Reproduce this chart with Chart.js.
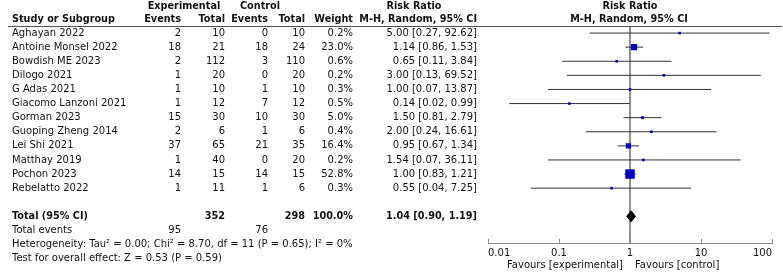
<!DOCTYPE html>
<html><head><meta charset="utf-8">
<script src="https://cdn.jsdelivr.net/npm/chart.js@4"></script>
<style>html,body{margin:0;padding:0;background:#fff}#wrap{width:783px;height:272px}</style>
</head><body><div id="wrap"><canvas id="c" width="783" height="272"></canvas></div>
<script>
const studies = ["Aghayan 2022","Antoine Monsel 2022","Bowdish ME 2023","Dilogo 2021","G Adas 2021","Giacomo Lanzoni 2021","Gorman 2023","Guoping Zheng 2014","Lei Shi 2021","Matthay 2019","Pochon 2023","Rebelatto 2022"];
const expEvents = [2,18,2,1,1,1,15,2,37,1,14,1];
const expTotal = [10,21,112,20,10,12,30,6,65,40,15,11];
const ctrlEvents = [0,18,3,0,1,7,10,1,21,0,14,1];
const ctrlTotal = [10,24,110,20,10,12,30,6,35,20,15,6];
const weights = [0.2,23.0,0.6,0.2,0.3,0.5,5.0,0.4,16.4,0.2,52.8,0.3];
const riskRatio = [5.00,1.14,0.65,3.00,1.00,0.14,1.50,2.00,0.95,1.54,1.00,0.55];
const ciLower = [0.27,0.86,0.11,0.13,0.07,0.02,0.81,0.24,0.67,0.07,0.83,0.04];
const ciUpper = [92.62,1.53,3.84,69.52,13.87,0.99,2.79,16.61,1.34,36.11,1.21,7.25];
const totalN = [352,298];
const totalEvents = [95,76];
const totalWeight = 100.0;
const pooled = [1.04,0.90,1.19];
const tickValues = [0.01,0.1,1,10,100];
const tickLabels = ["0.01","0.1","1","10","100"];
const heterogeneityText = "Heterogeneity: Tau\u00B2 = 0.00; Chi\u00B2 = 8.70, df = 11 (P = 0.65); I\u00B2 = 0%";
const overallText = "Test for overall effect: Z = 0.53 (P = 0.59)";
const favoursLeft = "Favours [experimental]";
const favoursRight = "Favours [control]";

const FONT = '"DejaVu Sans", sans-serif';
const totalRow = studies.length + 1;
const fmt2 = v => v.toFixed(2);
const rrText = (r,l,u) => fmt2(r) + " [" + fmt2(l) + ", " + fmt2(u) + "]";

const datasets = [];
datasets.push({
  label: "studies",
  data: studies.map((s,i)=>({x: riskRatio[i], y: i})),
  pointStyle: 'rect',
  pointRadius: ctx => Math.max(2.6, 1.3*Math.sqrt(weights[ctx.dataIndex]))/1.414,
  backgroundColor: '#0000c8',
  borderWidth: 0,
  order: 0
});
studies.forEach((s,i)=>{
  datasets.push({
    label: s,
    data: [{x: ciLower[i], y: i},{x: ciUpper[i], y: i}],
    showLine: true, borderColor: '#333', borderWidth: 1, pointRadius: 0, order: 2
  });
});
const dh = 0.39;
datasets.push({
  label: "total",
  data: [{x: pooled[1], y: totalRow},{x: pooled[0], y: totalRow-dh},{x: pooled[2], y: totalRow},{x: pooled[0], y: totalRow+dh},{x: pooled[1], y: totalRow}],
  showLine: true, borderColor: '#000', backgroundColor: '#000', borderWidth: 1, pointRadius: 0, fill: 'shape', tension: 0, order: 1
});

const decor = {
  id: 'decor',
  beforeDatasetsDraw(chart){
    const {ctx, chartArea, scales} = chart;
    const x1 = scales.x.getPixelForValue(1);
    ctx.save();
    ctx.strokeStyle = '#222'; ctx.lineWidth = 1;
    ctx.beginPath(); ctx.moveTo(x1, chartArea.top); ctx.lineTo(x1, chartArea.bottom); ctx.stroke();
    ctx.strokeStyle = '#555';
    ctx.beginPath(); ctx.moveTo(8, chartArea.top + 0.5); ctx.lineTo(782, chartArea.top + 0.5); ctx.stroke();
    ctx.restore();
  },
  afterDraw(chart){
    const {ctx, chartArea, scales} = chart;
    const ys = scales.y, xs = scales.x;
    ctx.save();
    ctx.strokeStyle = '#888'; ctx.lineWidth = 1;
    tickValues.forEach(v=>{
      const px = Math.round(xs.getPixelForValue(v)) + 0.5;
      ctx.beginPath(); ctx.moveTo(px, chartArea.bottom - 4); ctx.lineTo(px, chartArea.bottom); ctx.stroke();
    });
    ctx.fillStyle = '#111';
    ctx.textBaseline = 'middle';
    const txt = (s, x, y, align, bold) => {
      ctx.font = bold ? 'bold 9.7px ' + FONT : '10px ' + FONT;
      ctx.textAlign = align;
      ctx.fillText(s, x, y);
    };
    const top = chartArea.top;
    const h1 = top - 20, h2 = top - 7;
    txt("Experimental", 184, h1, 'center', true);
    txt("Control", 260, h1, 'center', true);
    txt("Risk Ratio", 414, h1, 'center', true);
    txt("Risk Ratio", 630, h1, 'center', true);
    txt("Study or Subgroup", 12, h2, 'left', true);
    txt("Events", 181, h2, 'right', true);
    txt("Total", 225, h2, 'right', true);
    txt("Events", 268, h2, 'right', true);
    txt("Total", 305, h2, 'right', true);
    txt("Weight", 353, h2, 'right', true);
    txt("M-H, Random, 95% CI", 477, h2, 'right', true);
    txt("M-H, Random, 95% CI", 629, h2, 'center', true);
    studies.forEach((s,i)=>{
      const y = ys.getPixelForValue(i);
      txt(s, 12, y, 'left');
      txt(String(expEvents[i]), 181, y, 'right');
      txt(String(expTotal[i]), 225, y, 'right');
      txt(String(ctrlEvents[i]), 268, y, 'right');
      txt(String(ctrlTotal[i]), 305, y, 'right');
      txt(weights[i].toFixed(1) + "%", 353, y, 'right');
      txt(rrText(riskRatio[i], ciLower[i], ciUpper[i]), 477, y, 'right');
    });
    const yt = ys.getPixelForValue(totalRow);
    txt("Total (95% CI)", 12, yt, 'left', true);
    txt(String(totalN[0]), 225, yt, 'right', true);
    txt(String(totalN[1]), 305, yt, 'right', true);
    txt(totalWeight.toFixed(1) + "%", 353, yt, 'right', true);
    txt(rrText(pooled[0], pooled[1], pooled[2]), 477, yt, 'right', true);
    const ye = ys.getPixelForValue(totalRow + 1);
    txt("Total events", 12, ye, 'left');
    txt(String(totalEvents[0]), 181, ye, 'right');
    txt(String(totalEvents[1]), 268, ye, 'right');
    txt(heterogeneityText, 12, ys.getPixelForValue(totalRow + 2), 'left');
    txt(overallText, 12, ys.getPixelForValue(totalRow + 3), 'left');
    txt(favoursLeft, 623, 265, 'right');
    txt(favoursRight, 635, 265, 'left');
    ctx.restore();
  }
};

Chart.defaults.font.family = FONT;
Chart.defaults.font.size = 10;
Chart.defaults.color = '#111';

new Chart(document.getElementById('c'), {
  type: 'scatter',
  data: { datasets },
  options: {
    responsive: false,
    animation: false,
    devicePixelRatio: 1,
    layout: { padding: { left: 488, right: 11, top: 26, bottom: 0 } },
    plugins: { legend: { display: false }, tooltip: { enabled: false } },
    scales: {
      x: {
        type: 'logarithmic', min: 0.01, max: 100,
        grid: { display: false, drawTicks: false },
        border: { display: true, color: '#888', width: 1 },
        ticks: { padding: 4, color: '#111', autoSkip: false, maxRotation: 0, align: 'inner',
          callback: (v, i) => tickLabels[i] },
        afterBuildTicks: s => { s.ticks = tickValues.map(v => ({ value: v })); },
        afterFit: s => { s.height = 29; }
      },
      y: {
        type: 'linear', reverse: true, min: -0.5, max: 14.89, display: false
      }
    }
  },
  plugins: [decor]
});
</script>
</body></html>
